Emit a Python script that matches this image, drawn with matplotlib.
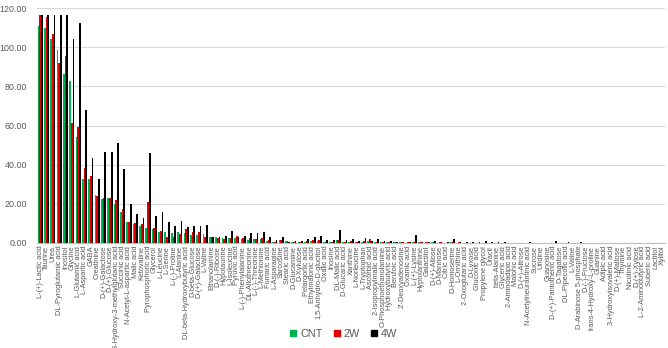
import matplotlib
matplotlib.use("Agg")
import matplotlib.pyplot as plt
import numpy as np
from matplotlib.lines import Line2D

categories = [
    "L-(+)-Lactic acid", "Taurine", "Urea", "DL-Pyroglutamic acid", "Inositol",
    "Glycine", "L-Glutamic acid", "L-Aspartic acid", "GABA", "Creatinine",
    "D-(+)-Galactose", "D-(+)-Glucose", "3-Hydroxy-3-methylglutaric acid",
    "Succinic acid", "N-Acetyl-L-aspartic acid", "Malic acid", "Ketovaline",
    "Pyrophosphoric acid", "Glycerol", "L-Leucine", "L-Serine", "L-(-)-Proline",
    "L-Alanine", "DL-beta-Hydroxybutyric acid", "D-beta-Glucose",
    "D-(+)-Galactose", "L-Valine", "Ethanolamine", "D-(-)-Ribose", "Hypotaurine",
    "L-Isoleucine", "Pyruvic acid", "L-(-)-Phenylalanine", "DL-Allothreonine",
    "L-(-)-Threonine", "L-Methionine", "Fumaric acid", "L-Asparagine",
    "Sarcosine", "Stearic acid", "D-Glucamine", "D-Xylulose", "Pelargonic acid",
    "Ethylmalonic acid", "1,5-Anhydro-D-glucitol", "Oxalic acid", "Inosine",
    "DL-Malic acid", "D-Glucaric acid", "Xanthine", "L-Norleucine",
    "L-Tryptophan", "Ascorbic acid", "2-Isopropylmalic acid",
    "O-Phosphoethanolamine", "Hydroxybutyric acid", "Benzoic acid",
    "2'-Deoxyadenosine", "Oxamic acid", "L-(+)-Lysine", "Hypoxanthine",
    "Galactitol", "D-(+)-Allose", "D-Mannose", "Citric acid", "D-Homoserine",
    "L-Ornithine", "2-Oxoglutaric acid", "D-Lyxose", "Gluconic acid",
    "Propylene glycol", "Uracil", "beta-Alanine", "Glyceric acid",
    "2-Aminoadipic acid", "Malonic acid", "D-(+)-Altrose",
    "N-Acetylneuraminic acid", "Sucrose", "Uridine", "Guanosine",
    "D-(+)-Pantothenic acid", "D-Tagatose", "DL-Pipecolic acid", "L-Valine",
    "D-Arabinose 5-phosphate", "D-(-)-Fructose", "trans-4-Hydroxy-L-proline",
    "Guanine", "Adipic acid", "3-Hydroxyisovaleric acid", "D-(+)-Maltose",
    "Thymine", "Nicotinic acid", "D-(+)-Xylose", "L-2-Aminobutyric acid",
    "Suberic acid", "Lactitol", "Xylitol",
]

cnt = [
    110.6, 109.8, 104.3, 98.4, 86.5, 82.9, 54.1, 32.8, 32.5, 24.3,
    22.5, 22.8, 20.0, 15.8, 10.5, 9.5, 8.5, 7.5, 7.2, 5.8,
    5.5, 5.0, 5.6, 5.0, 4.0, 4.0, 4.4, 3.0, 3.0, 2.8,
    2.4, 2.4, 1.8, 1.5, 1.8, 1.8, 1.1, 0.6, 1.6, 0.9,
    0.5, 0.5, 0.5, 0.9, 1.2, 0.5, 0.5, 1.5, 0.6, 0.4,
    0.6, 0.6, 0.8, 0.4, 0.3, 0.5, 0.3, 0.3, 0.2, 0.6,
    0.4, 0.3, 0.3, 0.2, 0.2, 0.4, 0.2, 0.2, 0.1, 0.2,
    0.1, 0.1, 0.2, 0.1, 0.1, 0.1, 0.1, 0.1, 0.05, 0.05,
    0.1, 0.05, 0.1, 0.05, 0.05, 0.05, 0.05, 0.05, 0.05, 0.05,
    0.05, 0.05, 0.05, 0.05, 0.05, 0.05, 0.05, 0.05, 0.05,
]

w2 = [
    116.6, 115.4, 106.9, 91.9, 95.7, 61.3, 59.2, 38.3, 34.2, 24.0,
    23.0, 23.0, 22.0, 17.5, 10.5, 10.0, 9.5, 21.0, 7.5, 6.0,
    3.0, 3.2, 4.4, 7.4, 5.8, 5.6, 3.2, 3.0, 2.8, 2.2,
    2.8, 3.6, 2.8, 2.4, 1.8, 2.7, 1.6, 0.6, 1.6, 0.9,
    0.5, 0.5, 0.9, 1.5, 1.5, 0.5, 0.5, 1.5, 0.6, 0.9,
    0.5, 0.9, 1.8, 0.5, 0.4, 0.4, 0.3, 0.4, 0.3, 0.5,
    0.3, 0.3, 0.4, 0.3, 0.2, 0.5, 0.3, 0.2, 0.2, 0.2,
    0.2, 0.2, 0.1, 0.1, 0.1, 0.1, 0.1, 0.2, 0.1, 0.1,
    0.1, 0.1, 0.05, 0.05, 0.05, 0.05, 0.05, 0.05, 0.05, 0.05,
    0.05, 0.05, 0.05, 0.05, 0.05, 0.05, 0.05, 0.05, 0.05,
]

w4 = [
    116.6, 116.4, 116.4, 116.4, 116.4, 104.2, 112.3, 67.7, 43.4, 32.5,
    46.3, 46.3, 51.0, 37.8, 19.8, 14.8, 13.0, 45.8, 14.0, 15.8,
    10.6, 8.7, 11.0, 8.4, 8.7, 8.7, 9.4, 3.2, 3.0, 3.6,
    6.2, 3.2, 3.6, 5.0, 5.0, 5.5, 3.0, 1.3, 3.0, 0.6,
    0.8, 0.9, 1.9, 3.2, 3.4, 1.6, 1.3, 6.5, 1.5, 2.2,
    1.2, 2.5, 1.0, 2.2, 1.1, 0.8, 0.5, 0.7, 0.6, 4.0,
    0.6, 0.5, 1.2, 0.3, 0.4, 2.2, 0.6, 0.5, 0.4, 0.3,
    0.8, 0.3, 0.3, 0.3, 0.2, 0.2, 0.2, 0.4, 0.2, 0.2,
    0.2, 1.2, 0.1, 0.4, 0.1, 0.3, 0.1, 0.1, 0.1, 0.1,
    0.1, 0.1, 0.1, 0.1, 0.1, 0.1, 0.1, 0.1, 0.1,
]

series_names = ["CNT", "2W", "4W"]
colors = ["#00B050", "#E00000", "#000000"]
y_ticks = [0, 20, 40, 60, 80, 100, 120]

W, H = 668, 348
fig = plt.figure(figsize=(W / 100, H / 100), dpi=100)
ax = fig.add_axes([37 / W, 1 - 243 / H, (665 - 37) / W, (243 - 8) / H])

x = np.arange(len(categories))
bw = 0.27
for k, (vals, c) in enumerate(zip([cnt, w2, w4], colors)):
    ax.bar(x + (k - 1) * bw, vals, width=bw, color=c, linewidth=0, zorder=3)

ax.set_xlim(-0.5, len(categories) - 0.5)
ax.set_ylim(0, 120)
ax.set_yticks(y_ticks)
ax.set_yticklabels([f"{v:.2f}" for v in y_ticks], fontsize=6.4, color="#595959",
                   family="Liberation Sans")
ax.yaxis.grid(True, color="#d9d9d9", linewidth=0.8, zorder=0)
ax.set_axisbelow(True)
ax.tick_params(axis="y", length=0, pad=7)
ax.tick_params(axis="x", length=0, pad=2)
ax.set_xticks(x)
ax.set_xticklabels(categories, rotation=90, fontsize=5.3, color="#595959",
                   family="Liberation Sans")
for s in ["top", "right", "left"]:
    ax.spines[s].set_visible(False)
ax.spines["bottom"].set_color("#bfbfbf")
ax.spines["bottom"].set_linewidth(0.8)

handles = [Line2D([0], [0], marker="s", linestyle="none", markersize=5,
                  markerfacecolor=c, markeredgecolor=c) for c in colors]
leg = fig.legend(handles, series_names, loc="center", bbox_to_anchor=(342 / W, 1 - 334 / H),
                 ncol=3, frameon=False, handletextpad=0.05, handlelength=1.2,
                 columnspacing=0.7, prop={"family": "Liberation Sans", "size": 7.8})
for t in leg.get_texts():
    t.set_color("#595959")

fig.savefig("out.png", dpi=100)
